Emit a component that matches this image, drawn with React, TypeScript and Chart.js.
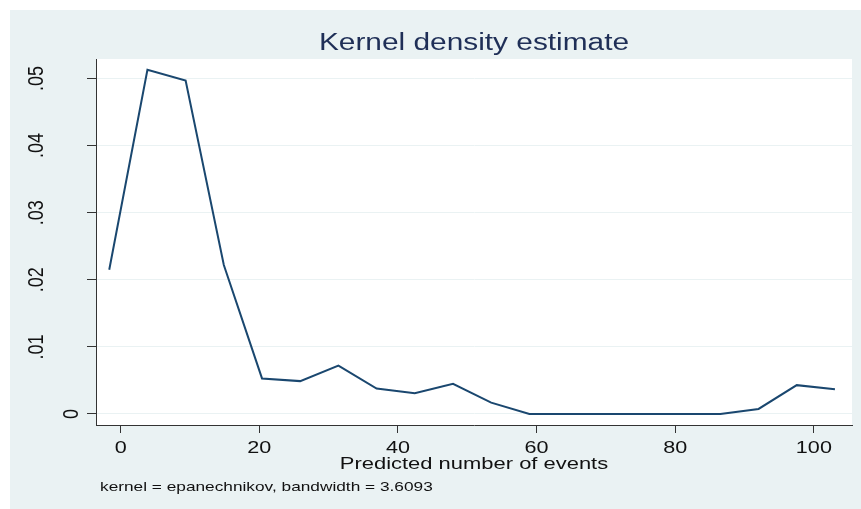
import React, { useEffect, useRef } from "react";
import { Chart, registerables } from "chart.js";

Chart.register(...registerables);

// ---- data ----
const X_POINTS = [-1.65, 3.86, 9.37, 14.88, 20.39, 25.9, 31.41, 36.92, 42.43, 47.94, 53.45, 58.96, 64.47, 69.98, 75.49, 81.0, 86.51, 92.02, 97.53, 103.04];
const DENSITY = [0.0215, 0.0513, 0.0497, 0.0222, 0.0053, 0.0049, 0.0072, 0.0038, 0.0031, 0.0045, 0.0017, 0, 0, 0, 0, 0, 0, 0.00075, 0.0043, 0.0037];
const X_TICKS = [0, 20, 40, 60, 80, 100];
const X_TICK_LABELS = ["0", "20", "40", "60", "80", "100"];
const Y_TICKS = [0, 0.01, 0.02, 0.03, 0.04, 0.05];
const Y_TICK_LABELS = ["0", ".01", ".02", ".03", ".04", ".05"];
const TITLE = "Kernel density estimate";
const X_TITLE = "Predicted number of events";
const NOTE = "kernel = epanechnikov, bandwidth = 3.6093";

const W = 861;
const H = 509;
const SX = 1.27;
const FONT = '"Liberation Sans", Arial, Helvetica, sans-serif';
const BG = "#eaf2f3";
const LINE = "#1a476f";
const AXIS = "#333333";

function drawText(
  ctx: CanvasRenderingContext2D,
  text: string,
  x: number,
  y: number,
  size: number,
  color: string,
  align: CanvasTextAlign,
  rotate = false
) {
  ctx.save();
  ctx.font = `${size}px ${FONT}`;
  ctx.fillStyle = color;
  ctx.textAlign = align;
  ctx.textBaseline = "alphabetic";
  ctx.translate(x, y);
  ctx.scale(SX, 1);
  if (rotate) ctx.rotate(-Math.PI / 2);
  ctx.fillText(text, 0, 0);
  ctx.restore();
}

const stataPlugin = {
  id: "stataLook",
  beforeDraw(chart: any) {
    const { ctx, chartArea } = chart;
    ctx.save();
    ctx.fillStyle = "#ffffff";
    ctx.fillRect(0, 0, W, H);
    ctx.fillStyle = BG;
    ctx.fillRect(10, 10, W - 10, H - 10);
    ctx.fillStyle = "#ffffff";
    ctx.fillRect(chartArea.left, chartArea.top, chartArea.right - chartArea.left, chartArea.bottom - chartArea.top);
    ctx.restore();
  },
  afterDraw(chart: any) {
    const { ctx, chartArea } = chart;
    const xs = chart.scales.x;
    const ys = chart.scales.y;
    const cx = (chartArea.left + chartArea.right) / 2;
    drawText(ctx, TITLE, cx, 50, 23.5, "#1f2f57", "center");
    X_TICKS.forEach((v, i) => {
      drawText(ctx, X_TICK_LABELS[i], xs.getPixelForValue(v), 453, 17, "#111111", "center");
    });
    drawText(ctx, X_TITLE, cx, 469, 17.3, "#111111", "center");
    drawText(ctx, NOTE, 100, 491, 13.6, "#111111", "left");
    ctx.save();
    ctx.font = `18px ${FONT}`;
    const w0 = ctx.measureText("0").width;
    const widths = Y_TICK_LABELS.map((t) => ctx.measureText(t).width);
    ctx.restore();
    Y_TICKS.forEach((v, i) => {
      const xBase = 78 - 2.33 * (widths[i] - w0);
      drawText(ctx, Y_TICK_LABELS[i], xBase, ys.getPixelForValue(v), 18, "#111111", "center", true);
    });
  },
};

export default function App() {
  const ref = useRef<HTMLCanvasElement | null>(null);
  useEffect(() => {
    if (!ref.current) return;
    const chart = new Chart(ref.current, {
      type: "line",
      data: {
        datasets: [
          {
            data: X_POINTS.map((x, i) => ({ x, y: DENSITY[i] })),
            borderColor: LINE,
            borderWidth: 2,
            pointRadius: 0,
            tension: 0,
            fill: false,
          },
        ],
      },
      options: {
        animation: false,
        responsive: false,
        devicePixelRatio: 1,
        layout: { padding: { left: 0, top: 59, right: 9, bottom: 0 } },
        plugins: { legend: { display: false }, tooltip: { enabled: false }, title: { display: false } },
        scales: {
          x: {
            type: "linear",
            min: -3.56,
            max: 105.5,
            afterBuildTicks: (s: any) => {
              s.ticks = X_TICKS.map((value) => ({ value }));
            },
            afterFit: (s: any) => {
              s.height = 84;
            },
            ticks: { display: false },
            grid: { drawOnChartArea: false, drawTicks: true, tickLength: 8, tickColor: AXIS, color: AXIS },
            border: { display: true, color: AXIS, width: 1 },
          },
          y: {
            type: "linear",
            min: -0.00164,
            max: 0.0529,
            afterBuildTicks: (s: any) => {
              s.ticks = Y_TICKS.map((value) => ({ value }));
            },
            afterFit: (s: any) => {
              s.width = 96;
            },
            ticks: { display: false },
            grid: { drawOnChartArea: true, drawTicks: true, tickLength: 9, tickColor: AXIS, color: BG, lineWidth: 1 },
            border: { display: true, color: AXIS, width: 1 },
          },
        },
      },
      plugins: [stataPlugin],
    });
    return () => chart.destroy();
  }, []);
  return (
    <div style={{ position: "fixed", left: 0, top: 0, width: W, height: H }}>
      <canvas ref={ref} width={W} height={H} style={{ width: W, height: H, display: "block" }} />
    </div>
  );
}
